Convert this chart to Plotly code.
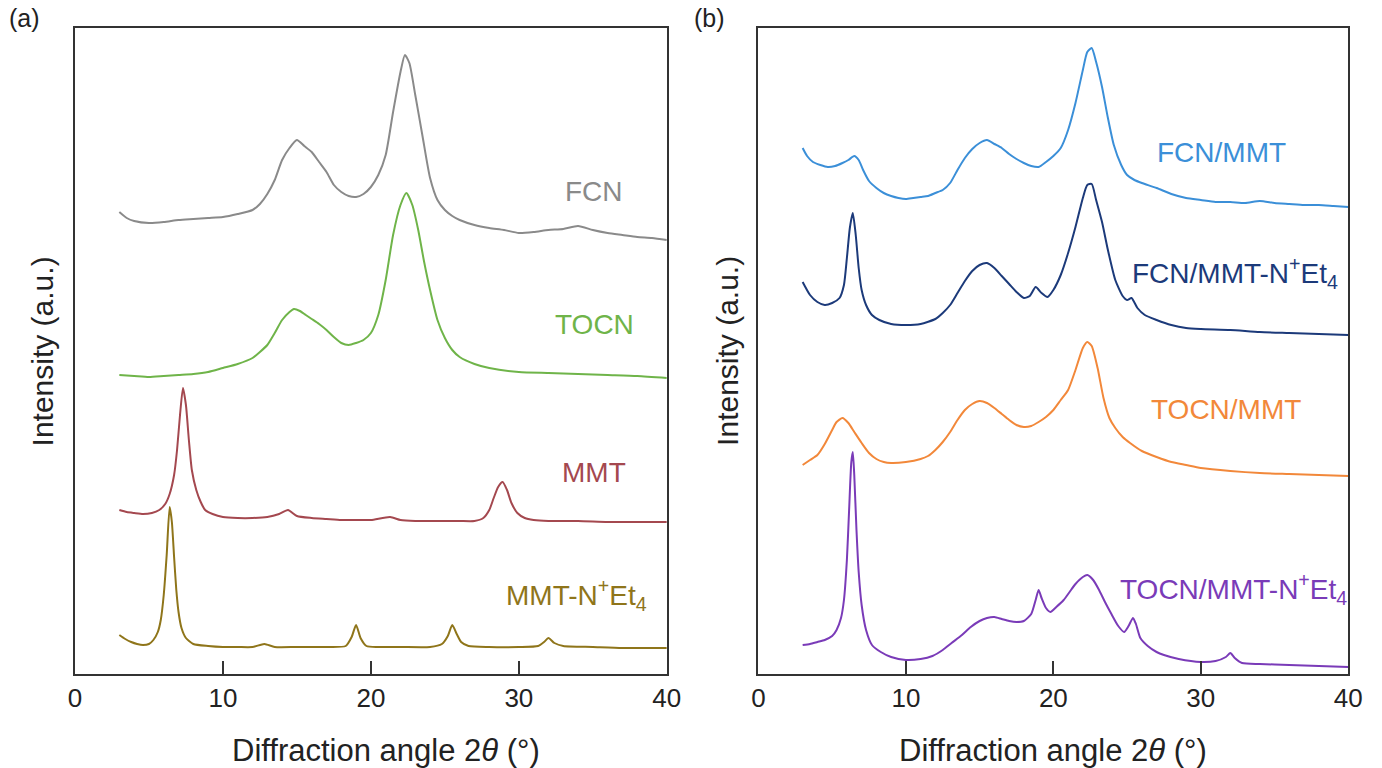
import plotly.graph_objects as go

# ---------------- Panel (a) ----------------
fcn_x = [3,3.5,4,5,6,7,8,9,10,11,12,12.5,13,13.5,14,14.5,15,15.5,16,16.5,17,17.5,18,18.5,19,19.5,20,20.5,21,21.5,
         22,22.3,22.6,23,23.5,24,24.5,25,25.5,26,27,28,29,30,31,32,33,34,35,36,37,38,39,40]
fcn_y = [469,463,460,458,459,461,462,463,464,467,471,477,487,501,521,533,541,535,529,519,509,496,489,485,484,487,494,506,526,569,
         609,626,618,586,544,503,481,471,465,461,456,453,451,448,449,451,452,455,451,448,446,444,443,441]

tocn_x = [3,4,5,6,7,8,9,10,11,12,12.5,13,13.5,14,14.5,14.8,15.2,15.6,16,16.5,17,17.5,18,18.5,19,19.5,20,20.5,21,21.5,
          22,22.4,22.8,23.2,23.6,24,24.5,25,25.5,26,27,28,30,32,34,36,38,40]
tocn_y = [306,305,304,305,306,307,309,313,317,323,329,336,348,361,369,372,370,366,362,357,351,344,338,336,338,341,348,366,401,446,
          476,488,476,451,419,391,361,343,331,324,317,313,309,308,307,306,305,303]

mmt_x = [3,3.5,4,4.6,5.2,5.7,6.1,6.4,6.7,6.9,7.1,7.3,7.5,7.7,7.9,8.2,8.5,8.8,9.3,10,11,12,13,13.8,14.4,15,16,17,18,19,
         20,21.3,22,23,24,25,26,27,27.6,28,28.3,28.6,28.9,29.2,29.5,29.9,30.4,31,32,34,36,38,40]
mmt_y = [171,169,168,167,168,171,177,187,206,231,266,293,276,241,211,191,179,171,167,164,163,163,164,167,171,165,163,162,161,161,
         161,164,161,160,160,160,160,160,163,171,183,194,199,191,178,168,163,161,160,160,159,159,159]

mmtn_x = [3,3.4,3.8,4.2,4.6,5,5.3,5.6,5.8,6.0,6.2,6.4,6.55,6.7,6.85,7.0,7.2,7.5,8,9,10,11,12,12.8,13.5,15,17,18.3,18.7,19.0,
          19.3,19.7,20.5,22,24,24.8,25.2,25.5,25.8,26.1,26.6,28,30,31.3,31.7,32.0,32.4,33,35,37,40]
mmtn_y = [46,42,39,37,36,37,41,49,61,86,126,174,159,124,91,69,53,43,37,35,34,34,34,37,34,34,34,35,44,56,
          43,35,34,34,34,37,45,56,47,39,35,34,34,35,39,43,38,35,34,33,33]

# ---------------- Panel (b) ----------------
fm_x = [3,3.3,3.7,4.2,4.7,5.2,5.7,6.1,6.5,6.8,7.1,7.5,8,8.5,9,9.5,10,10.5,11,11.5,12,12.5,13,13.5,14,14.5,15,15.5,16,16.5,
        17,17.5,18,18.5,19,19.5,20,20.5,21,21.5,22,22.3,22.6,22.9,23.3,23.7,24.1,24.6,25,25.5,26,27,28,29,30,31,32,33,34,35,
        36,37,38,39,40]
fm_y = [533,525,519,516,514,515,518,521,525,521,511,500,493,488,485,483,482,483,484,485,488,491,498,511,523,532,538,541,537,533,
        527,522,518,515,514,519,525,533,551,578,611,629,633,619,594,563,536,516,506,501,498,493,487,483,481,479,479,478,480,478,
        477,476,476,475,474]

fmn_x = [3,3.5,4,4.5,5,5.5,5.8,6.0,6.2,6.4,6.6,6.8,7.0,7.3,7.7,8.2,9,10,11,12,12.5,13,13.5,14,14.5,15,15.5,16,16.5,17,
         17.5,18,18.4,18.8,19.2,19.6,20,20.5,21,21.5,22,22.3,22.6,22.9,23.3,23.7,24.2,24.7,25.0,25.3,25.7,26.2,27,28,29,30,32,34,36,38,
         40]
fmn_y = [399,386,379,376,378,383,396,423,453,468,446,413,391,376,366,361,357,356,357,362,368,376,388,400,410,416,418,413,405,397,
         389,383,385,394,388,384,391,406,428,454,483,496,497,481,459,431,401,385,381,383,373,366,361,356,353,352,351,349,348,347,
         346]

tm_x = [3,3.5,4,4.5,5,5.3,5.7,6.1,6.5,7,7.5,8,8.5,9,10,11,11.5,12,12.5,13,13.5,14,14.5,15,15.5,16,16.5,17,17.5,18,
        18.5,19,19.5,20,20.5,21,21.5,22,22.3,22.6,23,23.4,23.8,24.2,24.7,25.2,26,27,28,29,30,32,34,36,38,40]
tm_y = [216,221,226,237,251,259,263,258,249,238,228,222,219,218,219,222,225,231,239,249,261,271,277,280,278,273,267,261,256,254,
        255,259,264,271,281,291,311,333,339,335,313,283,263,253,244,238,230,224,219,216,213,210,208,207,206,205]

tmn_x = [3,3.5,4,4.5,5,5.3,5.6,5.8,6.0,6.15,6.3,6.4,6.5,6.65,6.8,7.0,7.3,7.7,8.3,9,10,11,11.8,12.5,13.1,13.8,14.4,15,15.5,16,
         16.5,17,17.5,18,18.5,18.8,19.0,19.2,19.5,19.8,20.2,20.7,21.1,21.5,22,22.3,22.7,23.1,23.5,23.9,24.4,24.8,25.1,25.4,25.6,25.9,26.4,27,27.5,28.5,
         30,31,31.7,32.0,32.3,32.8,34,36,38,40]
tmn_y = [36,37,39,41,45,51,63,81,121,171,219,229,206,151,109,76,51,36,29,24,21,22,25,31,38,46,54,60,63,64,
         62,60,59,60,67,81,91,83,73,69,74,81,89,97,104,106,101,91,79,68,55,49,55,63,57,43,35,29,26,22,
         19,20,24,28,23,18,17,16,15,14]

# Series names, colours and label anchor positions (data coords)
series_a = [
    ("FCN", fcn_x, fcn_y, "#8a8a8a", 35.1, 490),
    ("TOCN", tocn_x, tocn_y, "#6fb449", 35.1, 357),
    ("MMT", mmt_x, mmt_y, "#a4484f", 35.1, 209),
    ("MMT-N<sup>+</sup>Et<sub>4</sub>", mmtn_x, mmtn_y, "#8f751a", 33.9, 86),
]
series_b = [
    ("FCN/MMT", fm_x, fm_y, "#3b8fd8", 31.4, 529),
    ("FCN/MMT-N<sup>+</sup>Et<sub>4</sub>", fmn_x, fmn_y, "#1c3a7a", 32.3, 408),
    ("TOCN/MMT", tm_x, tm_y, "#f2883a", 31.7, 272),
    ("TOCN/MMT-N<sup>+</sup>Et<sub>4</sub>", tmn_x, tmn_y, "#7a3bb8", 32.2, 92),
]

FONT = "Liberation Sans, Arial, sans-serif"
W, H = 1382, 768

fig = go.Figure()
annotations = []
for (name, xs, ys, col, lx, ly) in series_a:
    fig.add_trace(go.Scatter(x=xs, y=ys, mode="lines",
                             line=dict(color=col, width=2, shape="spline", smoothing=0.6),
                             xaxis="x", yaxis="y", showlegend=False, name=name))
    annotations.append(dict(x=lx, y=ly, xref="x", yref="y", text=name, showarrow=False,
                            xanchor="center", yanchor="middle",
                            font=dict(family=FONT, size=28, color=col)))
for (name, xs, ys, col, lx, ly) in series_b:
    fig.add_trace(go.Scatter(x=xs, y=ys, mode="lines",
                             line=dict(color=col, width=2, shape="spline", smoothing=0.6),
                             xaxis="x2", yaxis="y2", showlegend=False, name=name))
    annotations.append(dict(x=lx, y=ly, xref="x2", yref="y2", text=name, showarrow=False,
                            xanchor="center", yanchor="middle",
                            font=dict(family=FONT, size=28, color=col)))

# plot-area geometry in pixels
a_left, a_right = 69, 670
b_left, b_right = 763, 1362
top, bottom = 28, 674
ydom = [1 - bottom / H, 1 - top / H]

axis_common = dict(range=[0, 40], dtick=10, ticks="inside", ticklen=13, tickwidth=1.5,
                   tickcolor="#333", showline=True, linecolor="#333", linewidth=1.5, mirror=True,
                   showgrid=False, zeroline=False,
                   tickfont=dict(family=FONT, size=26, color="#222"))
yaxis_common = dict(range=[7, 653], showticklabels=False, ticks="", showline=True,
                    linecolor="#333", linewidth=1.5, mirror=True, showgrid=False, zeroline=False)

fig.update_layout(
    width=W, height=H,
    margin=dict(l=0, r=0, t=0, b=0),
    paper_bgcolor="white", plot_bgcolor="white",
    xaxis=dict(domain=[a_left / W, a_right / W], anchor="y", **axis_common),
    yaxis=dict(domain=ydom, anchor="x", **yaxis_common),
    xaxis2=dict(domain=[b_left / W, b_right / W], anchor="y2", **axis_common),
    yaxis2=dict(domain=ydom, anchor="x2", **yaxis_common),
)

# axis titles and panel letters
for (cx, letter, lx) in [(385, "(a)", 18), ((b_left + b_right) / 2, "(b)", 713)]:
    annotations.append(dict(x=cx / W, y=1 - 750 / H, xref="paper", yref="paper",
                            xanchor="center", yanchor="middle",
                            text="Diffraction angle 2<i>θ</i> (°)", showarrow=False,
                            font=dict(family=FONT, size=31, color="#222")))
    annotations.append(dict(x=lx / W, y=1 - 18 / H, xref="paper", yref="paper", text=letter,
                            xanchor="center", yanchor="middle",
                            showarrow=False, font=dict(family=FONT, size=25, color="#222")))
for yx in [36, 731]:
    annotations.append(dict(x=yx / W, y=1 - 351 / H, xref="paper", yref="paper",
                            xanchor="center", yanchor="middle",
                            text="Intensity (a.u.)", textangle=-90, showarrow=False,
                            font=dict(family=FONT, size=30, color="#222")))

fig.update_layout(annotations=annotations)
fig.write_html("out.html")
